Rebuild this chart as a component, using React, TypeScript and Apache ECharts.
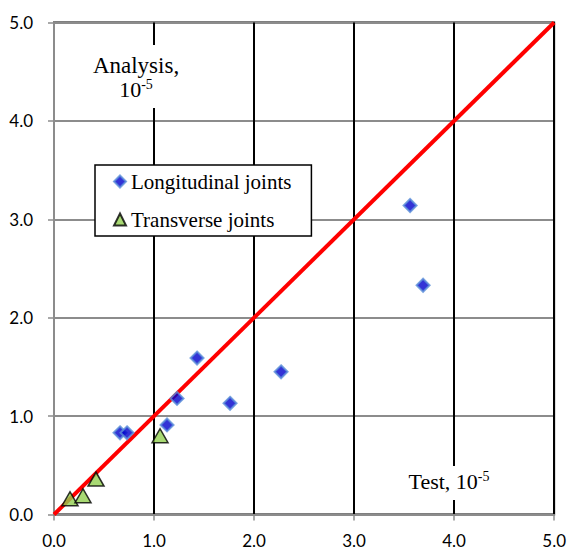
import React, { useEffect, useRef } from "react";
import * as echarts from "echarts";

// Test vs. analysis strain values (×10^-5)
const longitudinalTest = [0.66, 0.73, 1.13, 1.23, 1.43, 1.76, 2.27, 3.56, 3.69];
const longitudinalAnalysis = [0.83, 0.83, 0.91, 1.18, 1.59, 1.13, 1.45, 3.14, 2.33];
const transverseTest = [0.16, 0.29, 0.42, 1.06];
const transverseAnalysis = [0.16, 0.19, 0.36, 0.8];
const equalityLine = [0, 5];
const axisTicks = ["0.0", "1.0", "2.0", "3.0", "4.0", "5.0"];

const serif = "Liberation Serif";
const sans = "Lato";

export default function App() {
  const ref = useRef<HTMLDivElement>(null);

  useEffect(() => {
    if (!ref.current) return;
    const chart = echarts.init(ref.current, null, { renderer: "svg" });

    const longData = longitudinalTest.map((x, i) => [x, longitudinalAnalysis[i]]);
    const transData = transverseTest.map((x, i) => [x, transverseAnalysis[i]]);
    const lineData = equalityLine.map((v) => [v, v]);

    const axisCommon = {
      type: "value" as const,
      min: 0,
      max: 5,
      interval: 1,
      axisLine: { show: true, lineStyle: { color: "#8c8c8c", width: 2 } },
      axisTick: { show: true, length: 6, lineStyle: { color: "#8c8c8c", width: 1.5 } },
      axisLabel: {
        color: "#000",
        fontFamily: sans,
        fontSize: 17,
        formatter: (v: number) => axisTicks[Math.round(v)] ?? v.toFixed(1),
      },
    };

    const supRich = {
      b: { fontFamily: serif, fontSize: 22, color: "#000" },
      s: { fontFamily: serif, fontSize: 14, color: "#000", padding: [0, 0, 9, 0] },
    };

    chart.setOption({
      animation: false,
      backgroundColor: "#fff",
      grid: {
        left: 54,
        right: 13,
        top: 22.5,
        bottom: 37.5,
        show: true,
        borderColor: "#000",
        borderWidth: 2,
        backgroundColor: "transparent",
      },
      xAxis: {
        ...axisCommon,
        axisLabel: { ...axisCommon.axisLabel, margin: 17 },
        splitLine: { show: true, lineStyle: { color: "#000", width: 2 } },
      },
      yAxis: {
        ...axisCommon,
        axisLabel: { ...axisCommon.axisLabel, margin: 21 },
        splitLine: { show: true, lineStyle: { color: "#8c8c8c", width: 2 } },
      },
      legend: {
        orient: "vertical",
        left: 95,
        top: 165,
        padding: [6, 20, 6, 18],
        itemGap: 17,
        itemWidth: 12,
        itemHeight: 12,
        backgroundColor: "#fff",
        borderColor: "#000",
        borderWidth: 1.5,
        borderRadius: 0,
        textStyle: { fontFamily: serif, fontSize: 21, color: "#000" },
        data: ["Longitudinal joints", "Transverse joints"],
      },
      graphic: [
        { type: "rect", shape: { x: 88, y: 45, width: 100, height: 63 }, style: { fill: "#fff" }, z: 50 },
        {
          type: "text",
          x: 136,
          y: 65,
          z: 51,
          style: {
            text: "Analysis,",
            fill: "#000",
            fontFamily: serif,
            fontSize: 23,
            align: "center",
            verticalAlign: "middle",
          },
        },
        {
          type: "text",
          x: 136,
          y: 89,
          z: 51,
          style: {
            text: "{b|10}{s|-5}",
            fill: "#000",
            align: "center",
            verticalAlign: "middle",
            rich: supRich,
          },
        },
        { type: "rect", shape: { x: 403, y: 466, width: 98, height: 34 }, style: { fill: "#fff" }, z: 50 },
        {
          type: "text",
          x: 449,
          y: 481,
          z: 51,
          style: {
            text: "{b|Test, 10}{s|-5}",
            fill: "#000",
            align: "center",
            verticalAlign: "middle",
            rich: supRich,
          },
        },
      ],
      series: [
        {
          name: "Equality",
          type: "line",
          data: lineData,
          symbol: "none",
          lineStyle: { color: "#ff0000", width: 4 },
          z: 3,
        },
        {
          name: "Longitudinal joints",
          type: "scatter",
          data: longData,
          symbol: "diamond",
          symbolSize: [13, 13],
          itemStyle: { color: "#0000cc", borderColor: "#5a8ed8", borderWidth: 2 },
          z: 4,
        },
        {
          name: "Transverse joints",
          type: "scatter",
          data: transData,
          symbol: "triangle",
          symbolSize: [16, 14],
          itemStyle: { color: "#92d050", borderColor: "#000", borderWidth: 1.5 },
          z: 5,
        },
      ],
    });

    return () => chart.dispose();
  }, []);

  return <div ref={ref} style={{ width: 569, height: 552, position: "absolute", left: 0, top: 0 }} />;
}
